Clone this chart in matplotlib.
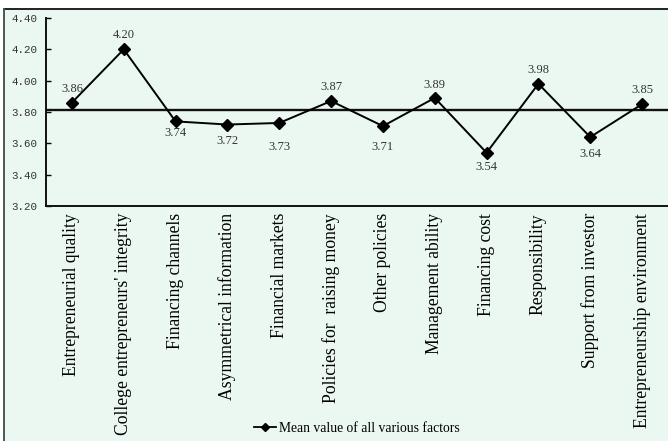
import matplotlib
matplotlib.use("Agg")
import matplotlib.pyplot as plt
from matplotlib.lines import Line2D
from matplotlib.patches import Rectangle
import numpy as np

factors = [
    "Entrepreneurial quality",
    "College entrepreneurs' integrity",
    "Financing channels",
    "Asymmetrical information",
    "Financial markets",
    "Policies for  raising money",
    "Other policies",
    "Management ability",
    "Financing cost",
    "Responsibility",
    "Support from investor",
    "Entrepreneurship environment",
]
mean_values = [3.86, 4.20, 3.74, 3.72, 3.73, 3.87, 3.71, 3.89, 3.54, 3.98, 3.64, 3.85]
y_ticks = [3.20, 3.40, 3.60, 3.80, 4.00, 4.20, 4.40]
series_name = "Mean value of all various factors"

# vertical offset (in points) of each value label from its marker
label_offsets = [10, 10, -8, -12, -17, 10, -15, 9, -10, 10, -12, 10]

BG = "#EBF8F2"
SERIF = "Liberation Serif"

fig = plt.figure(figsize=(6.68, 4.41), dpi=100)
fig.patch.set_facecolor("white")

W, H = 668, 441
# framed panel
fig.patches.append(Rectangle((4 / W, 0), 1, 1 - 8 / H, transform=fig.transFigure,
                             facecolor=BG, edgecolor="none", zorder=-5))
fig.add_artist(Line2D([4 / W, 1], [1 - 8.5 / H, 1 - 8.5 / H], transform=fig.transFigure,
                      color="#222222", lw=1.4))
fig.add_artist(Line2D([3.8 / W, 3.8 / W], [0, 1 - 8.5 / H], transform=fig.transFigure,
                      color="#4a5a50", lw=1.4))

left, right, top, bottom = 46, 668, 18, 206
ax = fig.add_axes([left / W, 1 - bottom / H, (right - left) / W, (bottom - top) / H])
ax.set_facecolor("none")

x = np.arange(len(factors))
ax.plot(x, mean_values, color="black", lw=1.4, marker="D", ms=6,
        markerfacecolor="black", markeredgecolor="black", zorder=3)

overall = float(np.mean(mean_values))
ax.axhline(overall, color="#111111", lw=1.7, zorder=2)

for xi, v, off in zip(x, mean_values, label_offsets):
    ax.annotate(f"{v:.2f}", (xi, v), xytext=(0, off), textcoords="offset points",
                ha="center", va="center", fontsize=9.0, family=SERIF, color="#333333")

ax.set_xlim(-0.5, len(factors) - 0.5)
ax.set_ylim(3.20, 4.40)
ax.set_yticks(y_ticks)
ax.set_yticklabels([f"{t:.2f}" for t in y_ticks], family="Liberation Mono",
                   fontsize=7.8, color="#333333")
ax.set_xticks(x)
ax.set_xticklabels(factors, rotation=90, family=SERIF, fontsize=12.7, color="black")
ax.tick_params(axis="y", direction="in", length=3.5, width=1.0, pad=6)
ax.tick_params(axis="x", length=0, pad=5)

for side in ("top", "right"):
    ax.spines[side].set_visible(False)
for side in ("left", "bottom"):
    ax.spines[side].set_linewidth(1.4)
    ax.spines[side].set_color("#111111")

handle = Line2D([], [], color="black", lw=1.3, marker="D", ms=4.5)
fig.legend([handle], [series_name], loc="center", bbox_to_anchor=(357 / W, 1 - 428 / H),
           frameon=False, prop={"family": SERIF, "size": 9.8}, handlelength=1.6,
           handletextpad=0.2, borderpad=0)

fig.savefig("out.png", dpi=100, facecolor="white")
